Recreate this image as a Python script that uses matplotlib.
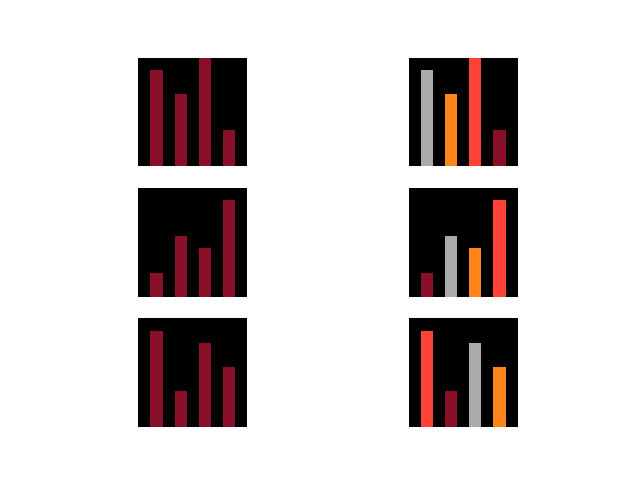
import matplotlib
matplotlib.use("Agg")
import matplotlib.pyplot as plt

# bar values for each row (same data in both columns)
positions = [0, 1, 2, 3]
row_values = [
    [8, 6, 9, 3],
    [2, 5, 4, 8],
    [8, 3, 7, 5],
]

dark_red = "#8a0f29"
gray = "#aaaaaa"
orange = "#ff851b"
red = "#ff4136"

# right column colours, one list per row
row_colors = [
    [gray, orange, red, dark_red],
    [dark_red, gray, orange, red],
    [red, dark_red, gray, orange],
]

fig, axes = plt.subplots(3, 2, figsize=(6.4, 4.8), dpi=100, sharey=True)

for i, values in enumerate(row_values):
    for j in range(2):
        ax = axes[i, j]
        colors = dark_red if j == 0 else row_colors[i]
        ax.bar(positions, values, width=0.5, color=colors)
        ax.set_facecolor("black")
        ax.set_xlim(-0.75, 3.75)
        ax.set_ylim(0, 9)
        ax.set_box_aspect(1)
        ax.set_xticks([])
        ax.set_yticks([])
        for s in ax.spines.values():
            s.set_visible(False)

fig.savefig("out.png")
